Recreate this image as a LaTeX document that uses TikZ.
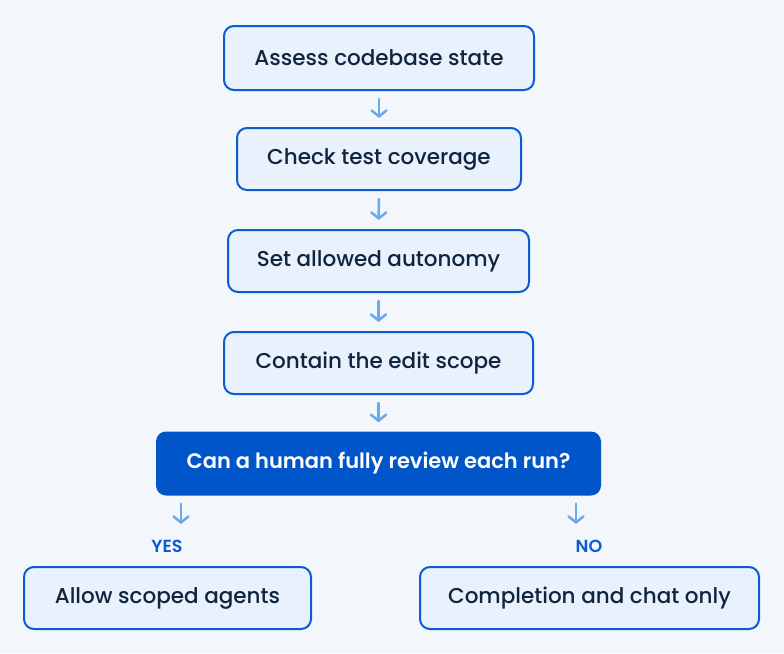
\documentclass[tikz,border=0pt]{standalone}
\usepackage{fontspec}
\setmainfont{Poppins}[UprightFont=* Medium, BoldFont=* SemiBold]
\usetikzlibrary{arrows.meta}

\definecolor{pagebg}{HTML}{F3F7FC}
\definecolor{boxfill}{HTML}{E8F1FC}
\definecolor{boxline}{HTML}{0B5CD1}
\definecolor{decfill}{HTML}{0056C8}
\definecolor{textnavy}{HTML}{10243E}
\definecolor{arrowblue}{HTML}{6AA9EC}

\tikzset{
  stepbox/.style={draw=boxline, line width=2pt, fill=boxfill, rounded corners=10pt,
    minimum height=62pt, inner sep=0pt, text=textnavy, font=\fontsize{21.5}{25}\selectfont},
  decbox/.style={fill=decfill, rounded corners=10pt, minimum height=64pt, minimum width=445pt,
    inner sep=0pt, text=white, font=\bfseries\fontsize{21}{25}\selectfont},
  flow/.style={arrowblue, line width=2.5pt, line cap=round,
    -{Straight Barb[length=6pt,width=15pt,line cap=round]}, shorten <=8pt, shorten >=9pt},
  answer/.style={text=boxline, font=\bfseries\fontsize{17.5}{20}\selectfont, inner sep=0pt}
}

\begin{document}
\begin{tikzpicture}[x=1pt, y=-1pt]
            % Page
            \useasboundingbox[fill=pagebg] (0,0) rectangle (784,653);

            % Steps
            \node[stepbox, minimum width=310pt, minimum height=64pt] (assess) at (379,58) {Assess codebase state};
            \node[stepbox, minimum width=284pt] (coverage) at (379,159) {Check test coverage};
            \node[stepbox, minimum width=301pt] (autonomy) at (378.5,261) {Set allowed autonomy};
            \node[stepbox, minimum width=309pt] (scope) at (378.5,363) {Contain the edit scope};

            % Decision
            \node[decbox] (review) at (378.5,463.5) {Can a human fully review each run?};

            % Outcomes
            \node[answer] (yes) at (167,546) {YES};
            \node[answer] (no) at (589,546) {NO};
            \node[stepbox, minimum width=287pt] (agents) at (167.5,598) {Allow scoped agents};
            \node[stepbox, minimum width=339pt] (chat) at (589.5,598) {Completion and chat only};

            % Arrows
            \draw[flow] (assess) -- (coverage);
            \draw[flow] (coverage) -- (autonomy);
            \draw[flow] (autonomy) -- (scope);
            \draw[flow] (scope) -- (review);
            \coordinate (yesend) at (181,533);
            \coordinate (noend) at (576,533);
            \draw[flow] (review.south -| yesend) -- (yesend);
            \draw[flow] (review.south -| noend) -- (noend);
        \end{tikzpicture}
\end{document}
